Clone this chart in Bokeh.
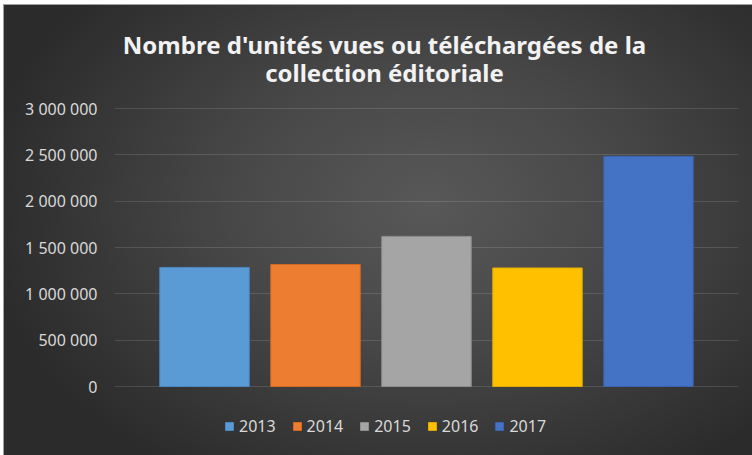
from bokeh.plotting import figure
from bokeh.models import ColumnDataSource, Range1d, FixedTicker, Label, Legend
from bokeh.embed import file_html
from bokeh.resources import INLINE

# ---- data ----
years = ["2013", "2014", "2015", "2016", "2017"]
units = [1285000, 1317000, 1620000, 1279000, 2484000]
colors = ["#5b9bd5", "#ed7d31", "#a5a5a5", "#ffc000", "#4472c4"]
edge_colors = ["#4a87c0", "#d46a22", "#8e8e8e", "#e0a800", "#3a62ae"]
tick_values = [0, 500000, 1000000, 1500000, 2000000, 2500000, 3000000]
tick_labels = ["0", "500 000", "1 000 000", "1 500 000", "2 000 000", "2 500 000", "3 000 000"]
title_lines = ["Nombre d'unités vues ou téléchargées de la", "collection éditoriale"]

FONT = "Noto Sans"

source = ColumnDataSource(dict(
    x=list(range(len(years))),
    year=years,
    units=units,
    color=colors,
    edge=edge_colors,
))

# The frame covers the full height so that title and legend can live inside it;
# the value axis 0..3 000 000 occupies pixels 386..108.
per_px = 3000000 / 278
p = figure(
    width=752, height=455,
    output_backend="svg", toolbar_location=None,
    x_range=Range1d(-0.811, 4.811),
    y_range=Range1d(-69 * per_px, 3000000 + 108 * per_px),
    min_border_left=114, min_border_right=14,
    min_border_top=0, min_border_bottom=0,
)
p.title.visible = False
p.styles = {
    "background-image": "radial-gradient(ellipse 60% 70% at 57% 45%, #585858 0%, #474747 45%, #2b2b2b 100%)",
    "box-shadow": "inset 3px 4px 0 0 #ffffff, inset 4px 5px 0 0 #a0a0a0",
}
p.background_fill_color = None
p.border_fill_color = None
p.outline_line_color = None

r = p.vbar(x="x", top="units", width=0.806, source=source,
           fill_color="color", line_color="edge", line_width=1)

# axes
p.xaxis.visible = False
p.xgrid.visible = False
yaxis = p.yaxis[0]
yaxis.ticker = FixedTicker(ticks=tick_values)
yaxis.major_label_overrides = {v: l for v, l in zip(tick_values, tick_labels)}
yaxis.axis_line_color = None
yaxis.major_tick_line_color = None
yaxis.minor_tick_line_color = None
yaxis.major_tick_in = 0
yaxis.major_tick_out = 0
yaxis.major_label_standoff = 17
yaxis.major_label_text_font = FONT
yaxis.major_label_text_font_size = "16px"
yaxis.major_label_text_color = "#d9d9d9"

p.ygrid.grid_line_color = "white"
p.ygrid.grid_line_alpha = 0.13
p.ygrid.grid_line_width = 1

# two-line title (screen units from the frame's bottom-left corner)
for txt, yy in zip(title_lines, [411, 383]):
    p.add_layout(Label(
        x=270, y=yy, x_units="screen", y_units="screen", text=txt,
        text_align="center", text_baseline="alphabetic",
        text_font=FONT, text_font_style="bold",
        text_font_size="24px", text_color="#f2f2f2",
    ))

# legend under the bars
legend = Legend(
    items=[(y, [r]) for y in years],
    orientation="horizontal",
    location=(110, 18),
    padding=0, margin=0, spacing=16, label_standoff=5,
    glyph_width=10, glyph_height=10, label_height=20,
    label_text_font=FONT, label_text_font_size="16px",
    label_text_color="#d9d9d9",
    background_fill_color=None, border_line_color=None,
)
for i, item in enumerate(legend.items):
    item.index = i
p.add_layout(legend, "center")

open("out.html", "w").write(file_html(p, INLINE))
